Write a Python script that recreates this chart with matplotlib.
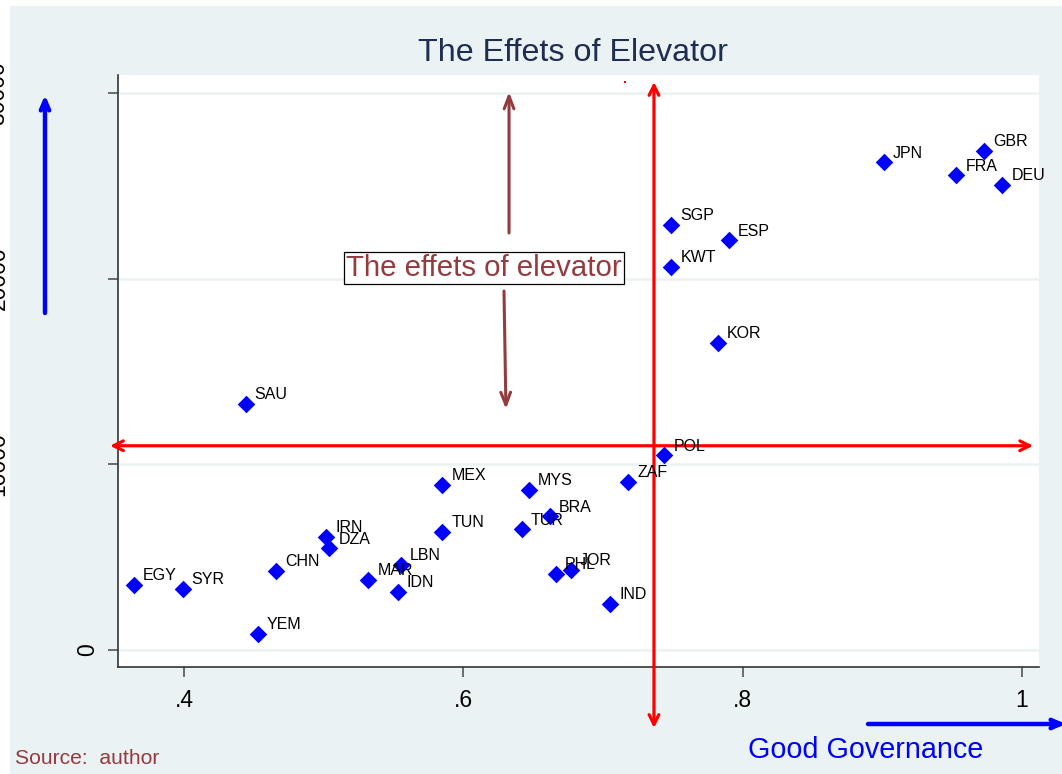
import matplotlib
matplotlib.use("Agg")
import matplotlib.pyplot as plt
from matplotlib.patches import Rectangle

plt.rcParams['font.family'] = ['Liberation Sans', 'DejaVu Sans']

# ---- data ----
countries = ["EGY", "SYR", "YEM", "CHN", "IRN", "DZA", "MAR", "LBN", "IDN", "MEX",
             "TUN", "MYS", "TUR", "BRA", "PHL", "JOR", "IND", "ZAF", "POL", "SAU",
             "KOR", "KWT", "SGP", "ESP", "JPN", "FRA", "GBR", "DEU"]
governance = [0.364, 0.399, 0.453, 0.466, 0.502, 0.504, 0.532, 0.555, 0.553, 0.585,
              0.585, 0.647, 0.642, 0.662, 0.666, 0.677, 0.705, 0.718, 0.744, 0.444,
              0.782, 0.749, 0.749, 0.790, 0.901, 0.953, 0.973, 0.986]
income = [3500, 3285, 860, 4255, 6090, 5490, 3770, 4580, 3125, 8890,
          6355, 8620, 6515, 7215, 4095, 4310, 2480, 9050, 10500, 13250,
          16535, 20630, 22890, 22080, 26280, 25580, 26875, 25045]
xticks = [0.4, 0.6, 0.8, 1.0]
xtick_labels = [".4", ".6", ".8", "1"]
yticks = [0, 10000, 20000, 30000]
ytick_labels = ["0", "10000", "20000", "30000"]

# reference lines (data coords)
h_line_y = 11000
h_line_x = [0.347, 1.008]
v_line_x = 0.7365
v_line_y = [-4200, 30590]
dot_xy = (0.7157, 30590)
up_arrow = [(0.6327, 22460), (0.6327, 30050)]
down_arrow = [(0.6291, 19335), (0.6305, 12980)]
box_xy = (0.6148, 20574)

W, H = 1062, 774
fig = plt.figure(figsize=(W / 100, H / 100), dpi=100)
fig.patch.set_facecolor("white")
bg = "#EAF2F3"
fig.patches.append(Rectangle((10 / W, 0), 1 - 10 / W, (H - 6) / H,
                             transform=fig.transFigure, facecolor=bg,
                             edgecolor="none", zorder=-10))

L, R, T, B = 118, 1039, 75, 667
ax = fig.add_axes([L / W, (H - B) / H, (R - L) / W, (B - T) / H])
ax.set_facecolor("white")
ax.set_xlim(0.3527, 1.0122)
ax.set_ylim(-916, 30969)

for s in ["top", "right"]:
    ax.spines[s].set_visible(False)
for s in ["left", "bottom"]:
    ax.spines[s].set_color("#333333")
    ax.spines[s].set_linewidth(1.2)

ax.set_xticks(xticks)
ax.set_xticklabels(xtick_labels, fontsize=16.5)
ax.set_yticks(yticks)
ax.set_yticklabels([])
ax.tick_params(axis="both", direction="out", length=7.5, width=1.2, color="#555555")
ax.tick_params(axis="x", pad=8)
for yv in yticks:
    ax.axhline(yv, color=bg, lw=1.8, zorder=0)

# rotated y tick labels (Stata-like placement)
for yv, lab in zip(yticks, ytick_labels):
    ypix = ax.transData.transform((0.5, yv))[1]
    xpix = 88 if lab == "0" else -2
    fig.text(xpix / W, ypix / H, lab, rotation=90, ha="center", va="center",
             fontsize=16.5, color="black")

# scatter
ax.scatter(governance, income, marker="D", s=80, color="#0000FF", zorder=5,
           linewidths=0)
for c, xv, yv in zip(countries, governance, income):
    ax.annotate(c, (xv, yv), xytext=(6.5, 6.5), textcoords="offset points",
                ha="left", va="center", fontsize=11.5, color="black", zorder=6)

# red cross lines
red_kw = dict(arrowstyle="<->,head_length=0.7,head_width=0.35", color="#FF0000",
              lw=2.3, shrinkA=0, shrinkB=0)
ax.annotate("", xy=(h_line_x[1], h_line_y), xytext=(h_line_x[0], h_line_y),
            arrowprops=red_kw, annotation_clip=False, zorder=4)
ax.annotate("", xy=(v_line_x, v_line_y[1]), xytext=(v_line_x, v_line_y[0]),
            arrowprops=red_kw, annotation_clip=False, zorder=4)
ax.plot([dot_xy[0]], [dot_xy[1]], marker="s", ms=1.6, color="#FF0000",
        markeredgewidth=0, clip_on=False)

# brown arrows
brown = "#943B3F"
br_kw = dict(arrowstyle="->,head_length=0.9,head_width=0.35", color=brown,
             lw=2.2, shrinkA=0, shrinkB=0)
ax.annotate("", xy=up_arrow[1], xytext=up_arrow[0], arrowprops=br_kw, zorder=4)
ax.annotate("", xy=down_arrow[1], xytext=down_arrow[0], arrowprops=br_kw, zorder=4)
ax.text(box_xy[0], box_xy[1], "The effets of elevator", ha="center", va="center",
        fontsize=21.2, color=brown, zorder=7,
        bbox=dict(boxstyle="square,pad=0.08", facecolor="white", edgecolor="black", lw=0.9))

# title
fig.text(573 / W, 1 - 53 / H, "The Effets of Elevator", ha="center", va="center",
         fontsize=23.2, color="#1F2D50")

# blue axis arrows (figure pixels)
blue_kw = dict(arrowstyle="->,head_length=0.7,head_width=0.3", color="#0000FF",
               lw=3.2, shrinkA=0, shrinkB=0)
ax.annotate("", xy=(45, H - 95), xytext=(45, H - 313),
            xycoords="figure pixels", textcoords="figure pixels",
            arrowprops=blue_kw, annotation_clip=False)
ax.annotate("", xy=(1066, H - 724), xytext=(868, H - 724),
            xycoords="figure pixels", textcoords="figure pixels",
            arrowprops=blue_kw, annotation_clip=False)

fig.text(866 / W, 1 - 750 / H, "Good Governance", ha="center", va="center",
         fontsize=20.7, color="#0000FF")
fig.text(15 / W, 1 - 759 / H, "Source:  author", ha="left", va="center",
         fontsize=15.2, color=brown)

fig.savefig("out.png", dpi=100, facecolor=fig.get_facecolor())
